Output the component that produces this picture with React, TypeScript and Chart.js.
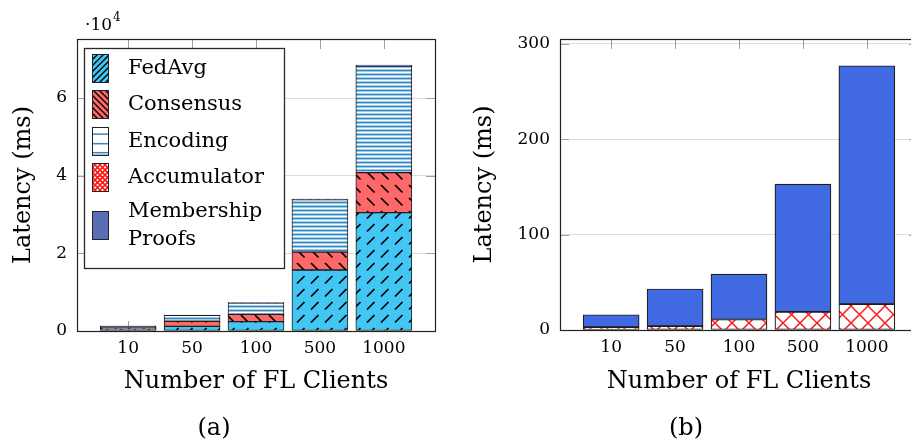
import React, { useEffect, useRef } from 'react';
import { Chart, registerables } from 'chart.js';

Chart.register(...registerables);

// ---------- data ----------
const categories = ['10', '50', '100', '500', '1000'];
// left chart (a): stacked latency components in ms
const fedAvg = [500, 1200, 2400, 15700, 30500];
const consensus = [300, 1300, 1900, 4600, 10300];
const encoding = [480, 1550, 2940, 13550, 27400];
// right chart (b): ms
const accumulator = [3, 4, 11, 19, 27];
const membership = [13, 39, 47.5, 134, 250];

const leftYTicks = [0, 20000, 40000, 60000];
const rightYTicks = [0, 100, 200, 300];
const leftYMax = 75200;
const rightYMax = 305;

const legendLines: string[][] = [['FedAvg'], ['Consensus'], ['Encoding'], ['Accumulator'], ['Membership', 'Proofs']];

const FONT = '"DejaVu Serif", "Liberation Serif", serif';
const TITLE_SIZE = 24;
const LEGEND_SIZE = 21;
const TICK_SIZE = 17;

const CYAN = '#42C6F3';
const SALMON = '#FF6868';
const STEEL = '#3A86BE';
const LIGHTSTEEL = '#9CCBE8';
const RED = '#FF1A1A';
const ROYAL = '#4169E1';
const SLATE = '#5B6DB5';

// ---------- patterns ----------
function tile(w: number, h: number, draw: (c: CanvasRenderingContext2D) => void) {
  const cv = document.createElement('canvas');
  cv.width = w;
  cv.height = h;
  const c = cv.getContext('2d')!;
  draw(c);
  return cv;
}

function makePatterns(ctx: CanvasRenderingContext2D) {
  const fed = tile(14, 13, (c) => {
    c.fillStyle = CYAN;
    c.fillRect(0, 0, 14, 13);
    c.strokeStyle = '#000';
    c.lineWidth = 1.7;
    c.beginPath();
    c.moveTo(3, 10.5);
    c.lineTo(10.5, 3);
    c.stroke();
  });
  const cons = tile(14, 13, (c) => {
    c.fillStyle = SALMON;
    c.fillRect(0, 0, 14, 13);
    c.strokeStyle = '#000';
    c.lineWidth = 1.7;
    c.beginPath();
    c.moveTo(3, 3);
    c.lineTo(10.5, 10.5);
    c.stroke();
  });
  const enc = tile(4, 4, (c) => {
    c.fillStyle = '#ffffff';
    c.fillRect(0, 0, 4, 4);
    c.fillStyle = LIGHTSTEEL;
    c.fillRect(0, 1, 4, 1);
    c.fillStyle = STEEL;
    c.fillRect(0, 2, 4, 1);
    c.fillStyle = LIGHTSTEEL;
    c.fillRect(0, 3, 4, 1);
  });
  const acc = tile(17, 17, (c) => {
    c.fillStyle = '#ffffff';
    c.fillRect(0, 0, 17, 17);
    c.strokeStyle = RED;
    c.lineWidth = 1.5;
    c.beginPath();
    for (let k = -1; k <= 1; k++) {
      c.moveTo(k * 17, 0);
      c.lineTo(k * 17 + 17, 17);
      c.moveTo(k * 17 + 17, 0);
      c.lineTo(k * 17, 17);
    }
    c.stroke();
  });
  return {
    fed: ctx.createPattern(fed, 'repeat')!,
    cons: ctx.createPattern(cons, 'repeat')!,
    enc: ctx.createPattern(enc, 'repeat')!,
    acc: ctx.createPattern(acc, 'repeat')!,
  };
}

function drawSwatch(ctx: CanvasRenderingContext2D, kind: number, x: number, y: number, w: number, h: number) {
  ctx.save();
  ctx.beginPath();
  ctx.rect(x, y, w, h);
  ctx.clip();
  if (kind === 0 || kind === 1) {
    ctx.fillStyle = kind === 0 ? CYAN : SALMON;
    ctx.fillRect(x, y, w, h);
    ctx.strokeStyle = '#000';
    ctx.lineWidth = 1.4;
    ctx.beginPath();
    for (let d = -h; d < w + h; d += 6) {
      if (kind === 0) {
        ctx.moveTo(x + d, y + h);
        ctx.lineTo(x + d + h, y);
      } else {
        ctx.moveTo(x + d, y);
        ctx.lineTo(x + d + h, y + h);
      }
    }
    ctx.stroke();
  } else if (kind === 2) {
    ctx.fillStyle = '#fff';
    ctx.fillRect(x, y, w, h);
    ctx.fillStyle = STEEL;
    [h * 0.22, h * 0.55, h * 0.86].forEach((yy) => ctx.fillRect(x, y + yy, w, 1.5));
    ctx.fillStyle = LIGHTSTEEL;
    ctx.fillRect(x, y + h * 0.86 + 1.5, w, 2);
  } else if (kind === 3) {
    ctx.fillStyle = '#fff';
    ctx.fillRect(x, y, w, h);
    ctx.strokeStyle = RED;
    ctx.lineWidth = 1.6;
    ctx.beginPath();
    for (let d = -h; d < w + h; d += 5) {
      ctx.moveTo(x + d, y + h);
      ctx.lineTo(x + d + h, y);
      ctx.moveTo(x + d, y);
      ctx.lineTo(x + d + h, y + h);
    }
    ctx.stroke();
  } else {
    ctx.fillStyle = SLATE;
    ctx.fillRect(x, y, w, h);
  }
  ctx.restore();
  ctx.strokeStyle = '#222';
  ctx.lineWidth = 1;
  ctx.strokeRect(x + 0.5, y + 0.5, w - 1, h - 1);
}

type DecorCfg = {
  yTicks: number[];
  yTitleX: number;
  xTitleY: number;
  caption: string;
  captionX: number;
  captionY: number;
  multiplier: boolean;
  legend: boolean;
};

function decorPlugin(cfg: DecorCfg) {
  return {
    id: 'decor',
    beforeDatasetsDraw(chart: any) {
      const { ctx, chartArea: a, scales } = chart;
      const xs = scales.x;
      const ys = scales.y;
      ctx.save();
      ctx.lineWidth = 1;
      ctx.strokeStyle = '#a0a0a0';
      ctx.beginPath();
      categories.forEach((_, i) => {
        const px = Math.round(xs.getPixelForValue(i)) + 0.5;
        ctx.moveTo(px, a.top);
        ctx.lineTo(px, a.top + 10);
        ctx.moveTo(px, a.bottom);
        ctx.lineTo(px, a.bottom - 10);
      });
      cfg.yTicks.forEach((v) => {
        const py = Math.round(ys.getPixelForValue(v)) + 0.5;
        ctx.moveTo(a.left, py);
        ctx.lineTo(a.left + 9, py);
        ctx.moveTo(a.right, py);
        ctx.lineTo(a.right - 9, py);
      });
      ctx.stroke();
      ctx.restore();
    },
    afterDatasetsDraw(chart: any) {
      const { ctx, chartArea: a } = chart;
      ctx.save();
      ctx.strokeStyle = '#222';
      ctx.lineWidth = 1.2;
      ctx.strokeRect(Math.round(a.left) + 0.5, Math.round(a.top) + 0.5, Math.round(a.right - a.left), Math.round(a.bottom - a.top));
      ctx.restore();
    },
    afterDraw(chart: any) {
      const { ctx, chartArea: a } = chart;
      ctx.save();
      ctx.fillStyle = '#000';
      ctx.textAlign = 'center';
      ctx.textBaseline = 'middle';
      // y title
      ctx.save();
      ctx.translate(cfg.yTitleX, (a.top + a.bottom) / 2);
      ctx.rotate(-Math.PI / 2);
      ctx.font = `${TITLE_SIZE}px ${FONT}`;
      ctx.fillText('Latency (ms)', 0, 0);
      ctx.restore();
      // x title
      ctx.font = `${TITLE_SIZE}px ${FONT}`;
      ctx.fillText('Number of FL Clients', (a.left + a.right) / 2, cfg.xTitleY);
      // caption
      ctx.font = `${TITLE_SIZE}px ${FONT}`;
      ctx.fillText(cfg.caption, cfg.captionX, cfg.captionY);
      // multiplier
      if (cfg.multiplier) {
        ctx.textAlign = 'left';
        ctx.textBaseline = 'alphabetic';
        ctx.font = `${TICK_SIZE}px ${FONT}`;
        const base = '\u00B710';
        const x0 = a.left + 8;
        ctx.fillText(base, x0, a.top - 9);
        const wBase = ctx.measureText(base).width;
        ctx.font = `12px ${FONT}`;
        ctx.fillText('4', x0 + wBase + 1, a.top - 18);
      }
      // legend
      if (cfg.legend) {
        const lx = a.left + 7;
        const ly = a.top + 9;
        const lw = 200;
        const lh = 220;
        ctx.fillStyle = '#fff';
        ctx.fillRect(lx, ly, lw, lh);
        ctx.strokeStyle = '#2a2a2a';
        ctx.lineWidth = 1.3;
        ctx.strokeRect(lx + 0.5, ly + 0.5, lw, lh);
        const centers = [20, 56, 92.5, 129, 176.5];
        ctx.textAlign = 'left';
        ctx.textBaseline = 'middle';
        ctx.font = `${LEGEND_SIZE}px ${FONT}`;
        legendLines.forEach((lines, i) => {
          const cy = ly + centers[i];
          drawSwatch(ctx, i, lx + 8, Math.round(cy - 14), 17, 29);
          ctx.fillStyle = '#000';
          const n = lines.length;
          lines.forEach((t, j) => {
            ctx.fillText(t, lx + 44, cy + (j - (n - 1) / 2) * 28 + 1);
          });
        });
      }
      ctx.restore();
    },
  };
}

function baseOptions(yMax: number, yTicks: number[], yWidth: number, xHeight: number, padRight: number, yFmt: (v: number) => string) {
  return {
    animation: false as const,
    responsive: false,
    layout: { padding: { top: 39, right: padRight, left: 0, bottom: 0 } },
    plugins: { legend: { display: false }, tooltip: { enabled: false } },
    scales: {
      x: {
        type: 'linear' as const,
        min: -0.8,
        max: 4.8,
        offset: false,
        stacked: true,
        grid: { display: false, drawTicks: false },
        border: { display: false },
        afterBuildTicks: (ax: any) => {
          ax.ticks = categories.map((_, i) => ({ value: i }));
        },
        afterFit: (ax: any) => {
          ax.height = xHeight;
        },
        ticks: {
          callback: (v: any) => categories[Number(v)] ?? '',
          font: { family: FONT, size: TICK_SIZE },
          color: '#000',
          padding: 7,
          maxRotation: 0,
          autoSkip: false,
        },
      },
      y: {
        stacked: true,
        min: 0,
        max: yMax,
        afterBuildTicks: (ax: any) => {
          ax.ticks = yTicks.map((v) => ({ value: v }));
        },
        afterFit: (ax: any) => {
          ax.width = yWidth;
        },
        grid: { color: '#dcdcdc', drawTicks: false, lineWidth: 1 },
        border: { display: false },
        ticks: {
          callback: (v: any) => yFmt(Number(v)),
          font: { family: FONT, size: TICK_SIZE },
          color: '#000',
          padding: 10,
        },
      },
    },
  };
}

function pts(arr: number[]) {
  return arr.map((v, i) => ({ x: i, y: v }));
}

function LeftChart() {
  const ref = useRef<HTMLCanvasElement>(null);
  useEffect(() => {
    const cv = ref.current!;
    const ctx = cv.getContext('2d')!;
    const p = makePatterns(ctx);
    const common = { barThickness: 56, borderColor: '#1e1e1e', borderWidth: 1, borderSkipped: false as const };
    const chart = new Chart(ctx, {
      type: 'bar',
      data: {
        datasets: [
          { label: 'FedAvg', data: pts(fedAvg), backgroundColor: p.fed, ...common },
          { label: 'Consensus', data: pts(consensus), backgroundColor: p.cons, ...common },
          { label: 'Encoding', data: pts(encoding), backgroundColor: p.enc, ...common },
          { label: 'Accumulator', data: pts(accumulator), backgroundColor: p.acc, ...common },
          { label: 'Membership Proofs', data: pts(membership), backgroundColor: SLATE, ...common },
        ] as any,
      },
      options: baseOptions(leftYMax, leftYTicks, 77, 111, 25, (v) => String(v / 10000)) as any,
      plugins: [
        decorPlugin({
          yTicks: leftYTicks,
          yTitleX: 24,
          xTitleY: 382,
          caption: '(a)',
          captionX: 214,
          captionY: 429,
          multiplier: true,
          legend: true,
        }) as any,
      ],
    });
    return () => chart.destroy();
  }, []);
  return <canvas ref={ref} width={460} height={442} style={{ position: 'absolute', left: 0, top: 0 }} />;
}

function RightChart() {
  const ref = useRef<HTMLCanvasElement>(null);
  useEffect(() => {
    const cv = ref.current!;
    const ctx = cv.getContext('2d')!;
    const p = makePatterns(ctx);
    const common = { barThickness: 56, borderColor: '#1e1e1e', borderWidth: 1.2, borderSkipped: false as const };
    const chart = new Chart(ctx, {
      type: 'bar',
      data: {
        datasets: [
          { label: 'Accumulator', data: pts(accumulator), backgroundColor: p.acc, ...common },
          { label: 'Membership Proofs', data: pts(membership), backgroundColor: ROYAL, ...common },
        ] as any,
      },
      options: baseOptions(rightYMax, rightYTicks, 100, 112, 42, (v) => String(v)) as any,
      plugins: [
        decorPlugin({
          yTicks: rightYTicks,
          yTitleX: 25,
          xTitleY: 382,
          caption: '(b)',
          captionX: 226,
          captionY: 429,
          multiplier: false,
          legend: false,
        }) as any,
      ],
    });
    return () => chart.destroy();
  }, []);
  return <canvas ref={ref} width={500} height={442} style={{ position: 'absolute', left: 460, top: 0 }} />;
}

export default function App() {
  return (
    <div style={{ position: 'absolute', left: 0, top: 0, width: 911, height: 442, overflow: 'hidden', background: '#fff' }}>
      <LeftChart />
      <RightChart />
    </div>
  );
}
